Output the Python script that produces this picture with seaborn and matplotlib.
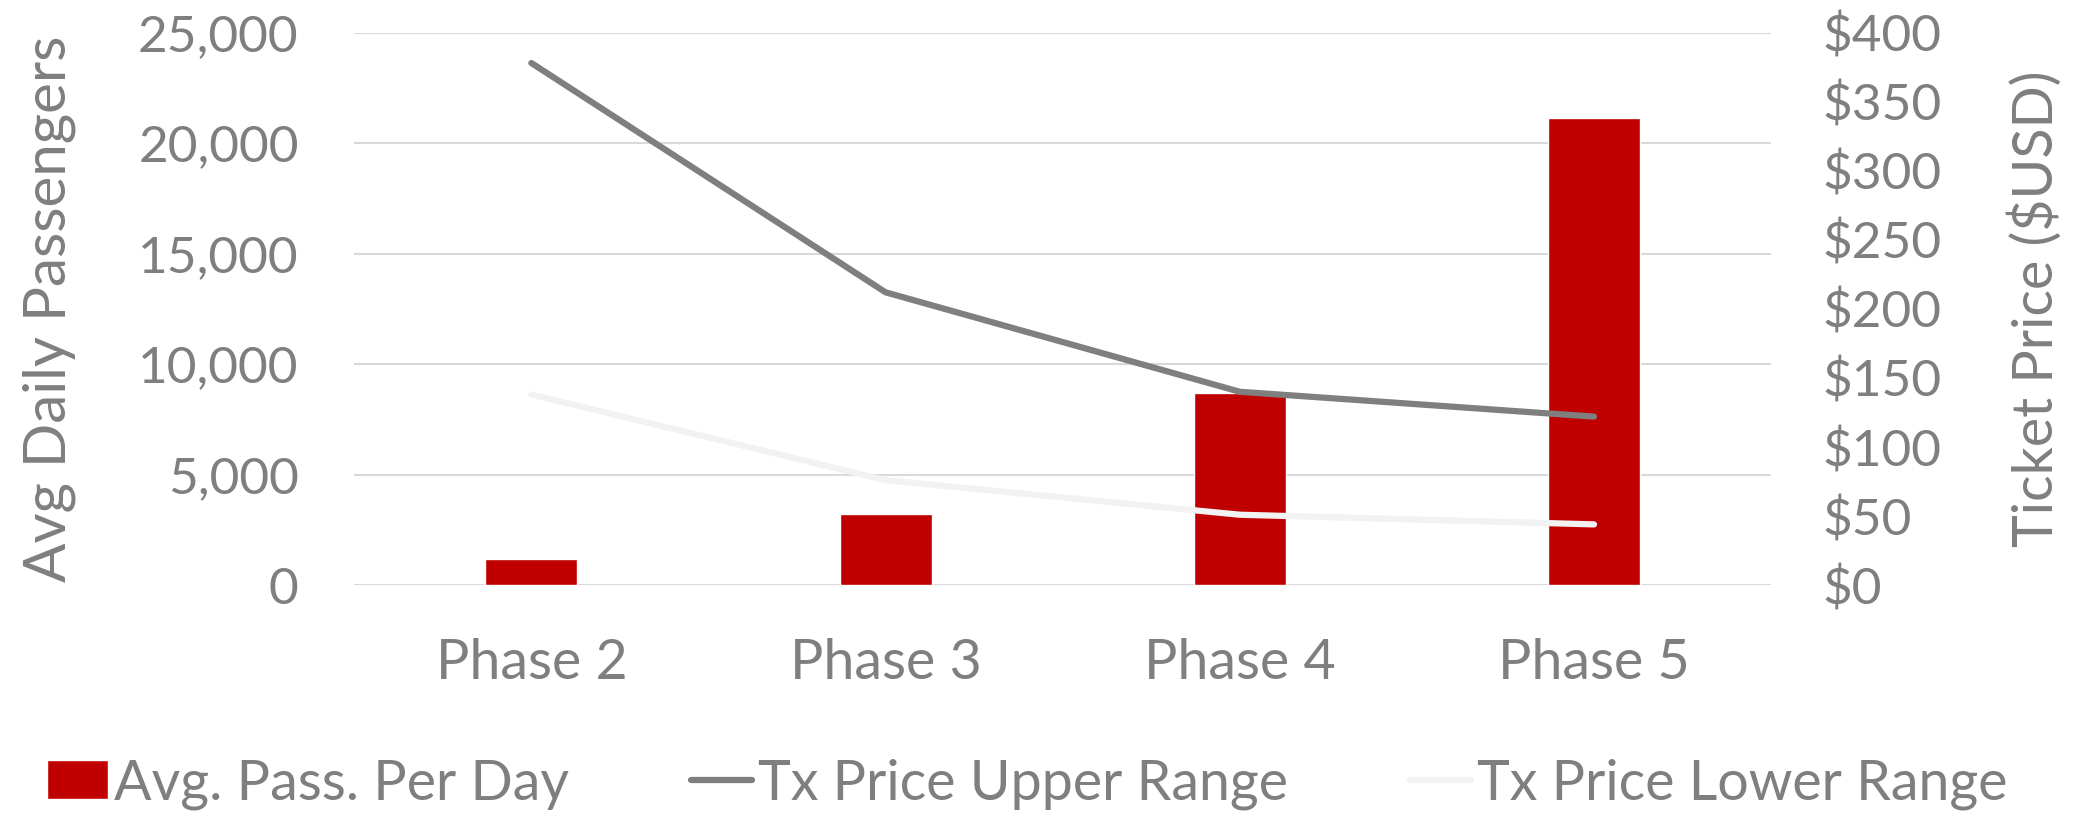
import numpy as np
import pandas as pd
import matplotlib
matplotlib.use("Agg")
import matplotlib.pyplot as plt
import seaborn as sns
from matplotlib.ticker import FuncFormatter

phases = ["Phase 2", "Phase 3", "Phase 4", "Phase 5"]
avg_pass = [1200, 3200, 8700, 21150]
price_upper = [378, 212, 140, 122]
price_lower = [138, 76, 51, 44]

sns.set_style("white")
plt.rcParams["font.family"] = ["Lato", "DejaVu Sans"]
txt = "#7f7f7f"
fw = "normal"

fig, ax = plt.subplots(figsize=(20.96, 8.15), dpi=100)
fig.subplots_adjust(left=0.169, right=0.845, bottom=0.282, top=0.96)

# bars on the left axis
df = pd.DataFrame({"phase": phases, "pass": avg_pass})
sns.barplot(data=df, x="phase", y="pass", color="#c00000", width=0.26,
            saturation=1, ax=ax, label="Avg. Pass. Per Day", zorder=2)
if ax.get_legend() is not None:
    ax.get_legend().remove()
ax.set_ylim(0, 25000)
ax.set_yticks(np.arange(0, 25001, 5000))
ax.yaxis.set_major_formatter(FuncFormatter(lambda v, p: f"{int(v):,}"))
ax.grid(axis="y", color="#d9d9d9", linewidth=1.5, zorder=0)
ax.set_axisbelow(True)
ax.set_xlim(-0.5, 3.5)
ax.set_xlabel("")
ax.set_ylabel("Avg Daily Passengers", fontsize=42, color=txt, labelpad=45,
              fontweight=fw)
ax.tick_params(axis="y", labelsize=37, labelcolor=txt, length=0, pad=40)
ax.tick_params(axis="x", labelsize=40, labelcolor=txt, length=0, pad=38)
for s in ax.spines.values():
    s.set_visible(False)

# price lines on the right axis
ax2 = ax.twinx()
xs = np.arange(len(phases))
sns.lineplot(x=xs, y=price_upper, color="#7f7f7f", linewidth=4.5,
             ax=ax2, label="Tx Price Upper Range")
sns.lineplot(x=xs, y=price_lower, color="#f2f2f2", linewidth=4.5,
             ax=ax2, label="Tx Price Lower Range")
ax2.set_ylim(0, 400)
ax2.set_yticks(np.arange(0, 401, 50))
ax2.yaxis.set_major_formatter(FuncFormatter(lambda v, p: f"${int(v)}"))
ax2.set_ylabel("Ticket Price ($USD)", fontsize=40, color=txt, labelpad=48,
               fontweight=fw)
ax2.tick_params(axis="y", labelsize=37, labelcolor=txt, length=0, pad=37)
for s in ax2.spines.values():
    s.set_visible(False)
ax2.get_legend().remove()

for lab in ax.get_xticklabels() + ax.get_yticklabels() + ax2.get_yticklabels():
    lab.set_fontweight(fw)

h1, l1 = ax.get_legend_handles_labels()
h2, l2 = ax2.get_legend_handles_labels()
leg = fig.legend(h1 + h2, l1 + l2, loc="lower center", ncol=3,
                 bbox_to_anchor=(0.49, -0.055), frameon=False,
                 handlelength=1.1, handletextpad=0.1, columnspacing=2.2,
                 prop={"weight": fw, "size": 40})
for t in leg.get_texts():
    t.set_color(txt)

plt.savefig("out.png", dpi=100)
